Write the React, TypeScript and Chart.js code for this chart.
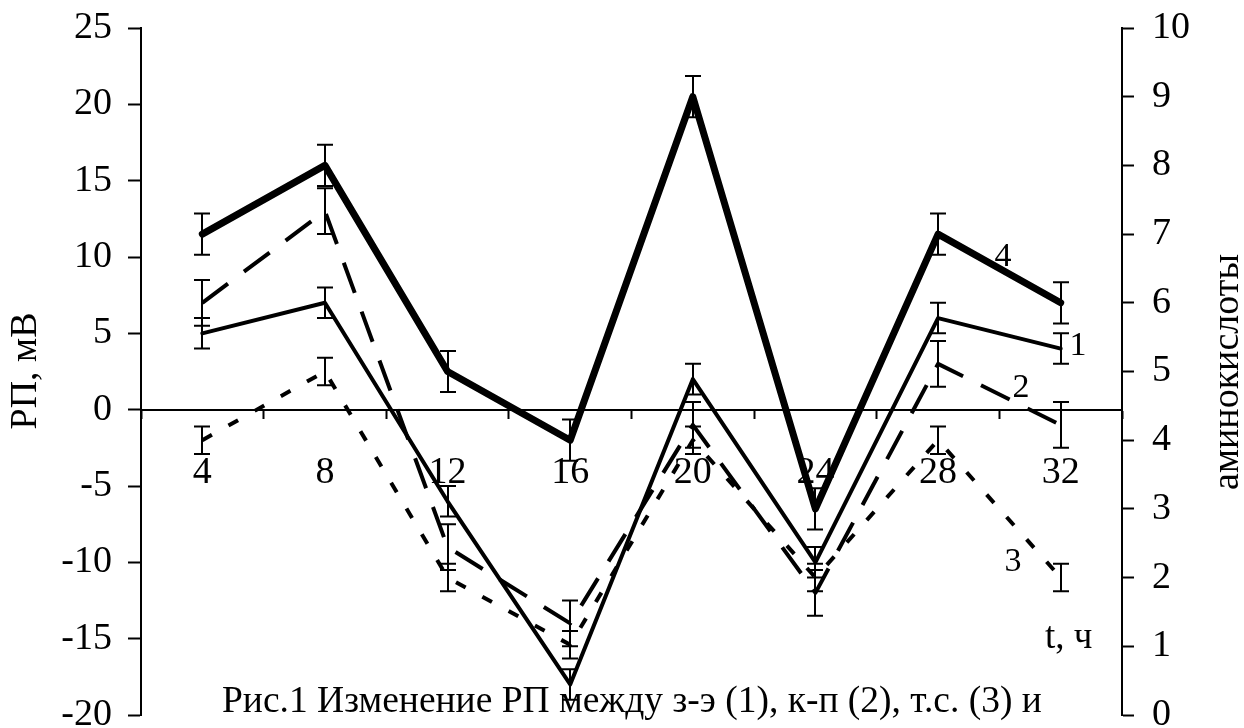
import React, { useEffect, useRef } from 'react';
import { Chart, registerables } from 'chart.js';

Chart.register(...registerables);

// Time points, hours
const hours = ['4', '8', '12', '16', '20', '24', '28', '32'];

// Redox potential (mV), left axis
const rpZE = [5, 7, -6, -18, 2, -10, 6, 4]; // з-э (1)
const rpZEErr = [1, 1, 1, 1, 1, 1, 1, 1];
const rpKP = [7, 13, -9, -14, -1, -12, 3, -1]; // к-п (2)
const rpKPErr = [1.5, 1.5, 1.5, 1.5, 1.5, 1.5, 1.5, 1.5];
const rpTS = [-2, 2.5, -11, -15.4, -2, -11, -2, -11]; // т.с. (3)
const rpTSErr = [0.9, 0.9, 0.9, 0.9, 0.9, 0.9, 0.9, 0.9];

// Amino acids, right axis (4)
const aminoAcids = [7, 8, 5, 4, 9, 3, 7, 6];
const aminoErr = [0.3, 0.3, 0.3, 0.3, 0.3, 0.3, 0.3, 0.3];

const leftRange = { min: -20, max: 25, step: 5 };
const rightRange = { min: 0, max: 10, step: 1 };

const FONT = 'Liberation Serif';
const INK = '#000';

const errorBars = {
  id: 'errorBars',
  afterDatasetsDraw(chart: any) {
    const ctx = chart.ctx;
    ctx.save();
    ctx.strokeStyle = INK;
    ctx.lineWidth = 2;
    ctx.setLineDash([]);
    chart.data.datasets.forEach((ds: any, i: number) => {
      const meta = chart.getDatasetMeta(i);
      const yScale = chart.scales[ds.yAxisID];
      meta.data.forEach((pt: any, j: number) => {
        const v = ds.data[j];
        const e = ds.errors[j];
        const x = Math.round(pt.x);
        const top = yScale.getPixelForValue(v + e);
        const bot = yScale.getPixelForValue(v - e);
        ctx.beginPath();
        ctx.moveTo(x, top);
        ctx.lineTo(x, bot);
        ctx.moveTo(x - 8, top);
        ctx.lineTo(x + 8, top);
        ctx.moveTo(x - 8, bot);
        ctx.lineTo(x + 8, bot);
        ctx.stroke();
      });
    });
    ctx.restore();
  },
};

const annotations = {
  id: 'annotations',
  afterDraw(chart: any) {
    const ctx = chart.ctx;
    ctx.save();
    ctx.fillStyle = INK;

    // series numbers
    ctx.font = `34px "${FONT}"`;
    ctx.textAlign = 'center';
    ctx.textBaseline = 'middle';
    ctx.fillText('4', 1003, 257);
    ctx.fillText('1', 1078, 346);
    ctx.fillText('2', 1021, 388);
    ctx.fillText('3', 1013, 562);

    // x axis unit
    ctx.font = `37px "${FONT}"`;
    ctx.textAlign = 'left';
    ctx.textBaseline = 'alphabetic';
    ctx.fillText('t, ч', 1045, 648);

    // caption
    ctx.font = `37.5px "${FONT}"`;
    ctx.fillText('Рис.1 Изменение РП между з-э (1), к-п (2), т.с. (3) и', 222, 712);

    // axis titles, both reading bottom-to-top
    ctx.font = `38px "${FONT}"`;
    ctx.textAlign = 'center';
    ctx.textBaseline = 'middle';
    ctx.translate(26, 371);
    ctx.rotate(-Math.PI / 2);
    ctx.fillText('РП, мВ', 0, 0);
    ctx.setTransform(1, 0, 0, 1, 0, 0);
    ctx.translate(1228, 372);
    ctx.rotate(-Math.PI / 2);
    ctx.fillText('аминокислоты', 0, 0);
    ctx.restore();
  },
};

const fixWidth = (w: number) => (s: any) => {
  s.width = w;
  s.paddingTop = 0;
  s.paddingBottom = 0;
};

export default function App() {
  const ref = useRef<HTMLCanvasElement>(null);

  useEffect(() => {
    document.body.style.margin = '0';
    const canvas = ref.current!;
    const tickFont = { family: FONT, size: 38 };
    const chart = new Chart(canvas, {
      type: 'line',
      data: {
        labels: hours,
        datasets: [
          {
            label: '4',
            data: aminoAcids,
            errors: aminoErr,
            yAxisID: 'y2',
            borderColor: INK,
            borderWidth: 7,
            borderCapStyle: 'round',
            borderJoinStyle: 'round',
            pointRadius: 0,
            fill: false,
          } as any,
          {
            label: '1',
            data: rpZE,
            errors: rpZEErr,
            yAxisID: 'y',
            borderColor: INK,
            borderWidth: 4,
            borderCapStyle: 'round',
            borderJoinStyle: 'round',
            pointRadius: 0,
            fill: false,
          } as any,
          {
            label: '2',
            data: rpKP,
            errors: rpKPErr,
            yAxisID: 'y',
            borderColor: INK,
            borderWidth: 4,
            borderDash: [32, 20],
            borderCapStyle: 'butt',
            borderJoinStyle: 'round',
            pointRadius: 0,
            fill: false,
          } as any,
          {
            label: '3',
            data: rpTS,
            errors: rpTSErr,
            yAxisID: 'y',
            borderColor: INK,
            borderWidth: 4,
            borderDash: [11, 19],
            borderCapStyle: 'butt',
            borderJoinStyle: 'round',
            pointRadius: 0,
            fill: false,
          } as any,
        ],
      },
      options: {
        animation: false,
        responsive: false,
        maintainAspectRatio: false,
        layout: { padding: { top: 28, bottom: 13, left: 0, right: 0 } },
        plugins: {
          legend: { display: false },
          tooltip: { enabled: false },
          title: { display: false },
        },
        scales: {
          x: {
            type: 'category',
            position: { y: 0 } as any,
            offset: true,
            grid: {
              offset: true,
              drawOnChartArea: false,
              drawTicks: true,
              tickLength: 8,
              tickWidth: 2,
              tickColor: INK,
            },
            border: { display: true, color: INK, width: 2 },
            ticks: {
              color: INK,
              font: tickFont,
              padding: 33,
              maxRotation: 0,
              autoSkip: false,
            },
          },
          y: {
            type: 'linear',
            position: 'left',
            min: leftRange.min,
            max: leftRange.max,
            afterFit: fixWidth(141),
            grid: {
              drawOnChartArea: false,
              drawTicks: true,
              tickLength: 13,
              tickWidth: 2,
              tickColor: INK,
            },
            border: { display: true, color: INK, width: 2 },
            ticks: {
              stepSize: leftRange.step,
              color: INK,
              font: tickFont,
              padding: 16,
            },
          },
          y2: {
            type: 'linear',
            position: 'right',
            min: rightRange.min,
            max: rightRange.max,
            afterFit: fixWidth(122),
            grid: {
              drawOnChartArea: false,
              drawTicks: true,
              tickLength: 12,
              tickWidth: 2,
              tickColor: INK,
            },
            border: { display: true, color: INK, width: 2 },
            ticks: {
              stepSize: rightRange.step,
              color: INK,
              font: tickFont,
              padding: 18,
            },
          },
        },
      },
      plugins: [errorBars, annotations],
    });
    return () => chart.destroy();
  }, []);

  return (
    <div style={{ position: 'fixed', left: 0, top: 0, width: 1244, height: 728, background: '#fff' }}>
      <canvas ref={ref} width={1244} height={728} style={{ display: 'block' }} />
    </div>
  );
}
